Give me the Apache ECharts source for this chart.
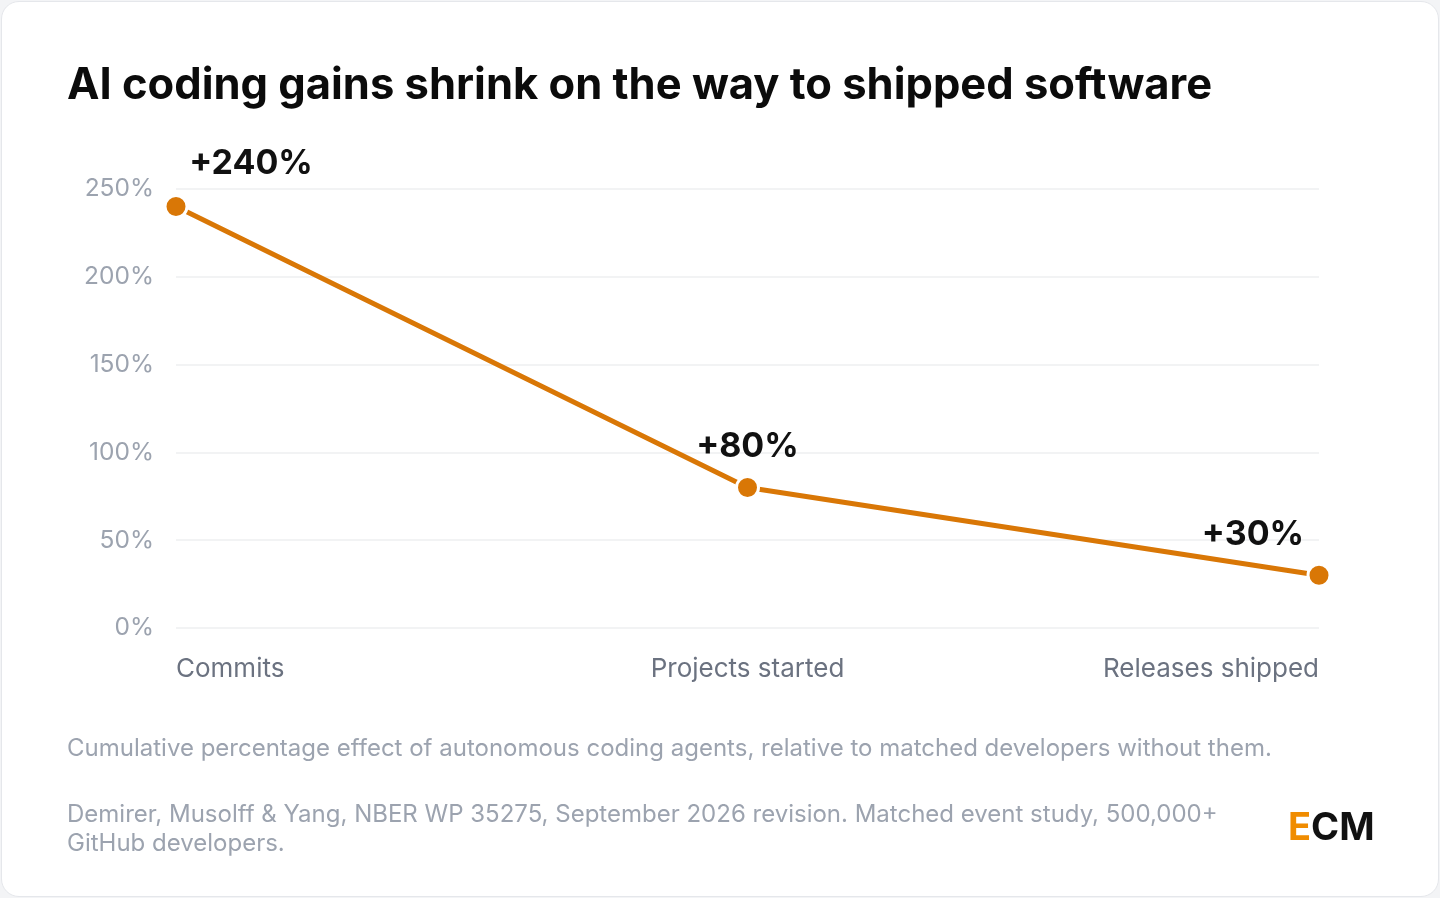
<!DOCTYPE html>
<html><head><meta charset="utf-8">
<script src="https://cdn.jsdelivr.net/npm/echarts@6/dist/echarts.min.js"></script>
<style>
html,body{margin:0;padding:0;background:#f3f4f6;}
#card{position:absolute;left:1px;top:1px;width:1436px;height:894px;background:#fff;border:1px solid #e5e7eb;border-radius:18px;overflow:hidden;}
#c{width:1436px;height:894px;}
</style></head><body>
<div id="card"><div id="c"></div></div>
<script>
const categories = ['Commits', 'Projects started', 'Releases shipped'];
const values = [240, 80, 30];
const valueLabels = ['+240%', '+80%', '+30%'];
const yTicks = [0, 50, 100, 150, 200, 250];

const chart = echarts.init(document.getElementById('c'));
const F = 'Inter, "Noto Sans", sans-serif';
const labelPos = [
  {position:'top', offset:[75,-8]},
  {position:'top', offset:[0,-6]},
  {position:'top', offset:[-66,-6]}
];
chart.setOption({
  animation:false,
  grid:{left:174, right:119, top:187, bottom:268},
  xAxis:{type:'category', data:categories, boundaryGap:false,
    axisLine:{show:false}, axisTick:{show:false},
    axisLabel:{color:'#6b7280', fontFamily:F, fontSize:26, margin:28,
      alignMinLabel:'left', alignMaxLabel:'right'}},
  yAxis:{type:'value', min:yTicks[0], max:yTicks[yTicks.length-1], interval:50,
    axisLine:{show:false}, axisTick:{show:false},
    splitLine:{lineStyle:{color:'#eeeff1', width:1.5}},
    axisLabel:{color:'#9ca3af', fontFamily:F, fontSize:24.5, margin:22, formatter:v=>v+'%'}},
  series:[{type:'line', data:values.map((v,i)=>({value:v,
      label:Object.assign({show:true, formatter:valueLabels[i], color:'#111', fontFamily:F, fontSize:34, fontWeight:'bold'}, labelPos[i])})),
    lineStyle:{color:'#d97706', width:5},
    itemStyle:{color:'#d97706', borderColor:'#fff', borderWidth:3},
    symbol:'circle', symbolSize:22}],
  graphic:[
    {type:'text', left:65, top:62, style:{text:'AI coding gains shrink on the way to shipped software', font:'bold 43.5px '+F, fill:'#0b0b0b'}},
    {type:'text', left:65, top:735, style:{text:'Cumulative percentage effect of autonomous coding agents, relative to matched developers without them.', font:'24px '+F, fill:'#9ca3af'}},
    {type:'text', left:65, top:798, style:{text:'Demirer, Musolff & Yang, NBER WP 35275, September 2026 revision. Matched event study, 500,000+\nGitHub developers.', font:'24px '+F, fill:'#9ca3af', lineHeight:29}},
    {type:'text', left:1286, top:808, style:{text:'{e|E}{m|CM}', rich:{e:{font:'bold 38px '+F, fill:'#f08c00'}, m:{font:'bold 38px '+F, fill:'#111'}}}}
  ]
});
</script></body></html>
